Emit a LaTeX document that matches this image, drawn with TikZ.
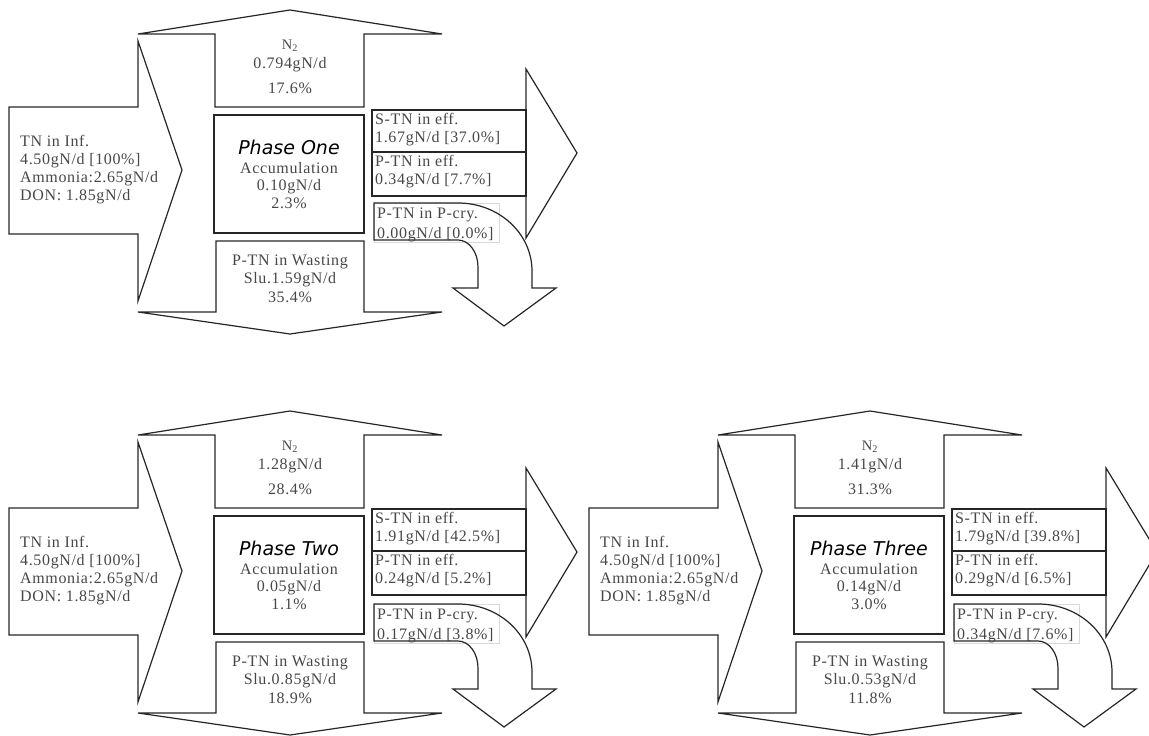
\documentclass[tikz,border=0pt]{standalone}
\usepackage{fontspec}
\setmainfont{Liberation Serif}[LetterSpace=4]
\newfontfamily\ttlfont{DejaVu Sans}
\tikzset{
  shp/.style={draw=black!85, line width=1.2pt, line join=miter},
  faint/.style={draw=black!15, line width=0.6pt},
  txt/.style={inner sep=0pt, text=black!72, font=\fontsize{16}{18}\selectfont},
  sub/.style={inner sep=0pt, text=black!72, font=\fontsize{14.5}{15}\selectfont},
  ttl/.style={inner sep=0pt, text=black, font=\ttlfont\itshape\fontsize{19}{20}\selectfont},
}
% shapes of one phase, in the coordinates of phase two; #1 = extra y shift of the effluent arrow
\newcommand{\phaseshapes}[1]{%
  \draw[shp] (215,508) -- (215,435) -- (138,435) -- (290,411) -- (442,435) -- (364,435) -- (364,508) -- cycle;
  \draw[shp] (9,508) -- (138,508) -- (138,442) -- (182,571) -- (138,702) -- (138,635) -- (9,635) -- cycle;
  \draw[shp] (214,516) rectangle (364,634);
  \draw[shp] (216,642) -- (364,642) -- (364,713) -- (442,713) -- (290,735) -- (138,713) -- (216,713) -- cycle;
  \begin{scope}[shift={(0,#1)}]
    \draw[shp] (526,468) -- (577,552) -- (526,637) -- cycle;
    \draw[shp] (372,509) rectangle (526,551);
    \draw[shp] (372,551) rectangle (526,595);
  \end{scope}
  \draw[faint] (374,604) rectangle (499,643);
  \draw[shp] (374,604) -- (458,604) .. controls (498.9,604) and (532,634.4) .. (532,672)
    -- (532,689) -- (556,689) -- (504,727) -- (453,689) -- (478,689) -- (478,668)
    .. controls (478,653.1) and (469,641) .. (458,641) -- (374,641) -- cycle;
}
\begin{document}
\begin{tikzpicture}[x=1pt,y=-1pt]
\useasboundingbox (0,0) rectangle (1149,736);
\clip (0,0) rectangle (1149,736);

% ---------------- Phase One ----------------
\begin{scope}[shift={(0,-401)}]
  \phaseshapes{2}
  \node[txt, anchor=west, align=left] (p1inf) at (20,571) {TN in Inf.\\4.50gN/d [100\%]\\Ammonia:2.65gN/d\\DON: 1.85gN/d};
  \node[sub] (p1n2) at (290,447) {N\textsubscript{2}};
  \node[txt] (p1n2v) at (290,466) {0.794gN/d};
  \node[txt] (p1n2p) at (290,489) {17.6\%};
  \node[ttl] (p1ttl) at (289,548) {Phase One};
  \node[txt] (p1acc) at (289,569) {Accumulation};
  \node[txt] (p1accv) at (289,588) {0.10gN/d};
  \node[txt] (p1accp) at (289,604) {2.3\%};
  \node[txt] (p1w1) at (290,663) {P-TN in Wasting};
  \node[txt] (p1w2) at (290,681) {Slu.1.59gN/d};
  \node[txt] (p1w3) at (290,698) {35.4\%};
  \node[txt, anchor=west, align=left] (p1s) at (375,531) {S-TN in eff.\\1.67gN/d [37.0\%]};
  \node[txt, anchor=west, align=left] (p1p) at (375,573) {P-TN in eff.\\0.34gN/d [7.7\%]};
  \node[txt, anchor=west, align=left] (p1c) at (377,626) {P-TN in P-cry.\\[2pt]0.00gN/d [0.0\%]};
\end{scope}

% ---------------- Phase Two ----------------
\begin{scope}
  \phaseshapes{0}
  \node[txt, anchor=west, align=left] (p2inf) at (20,571) {TN in Inf.\\4.50gN/d [100\%]\\Ammonia:2.65gN/d\\DON: 1.85gN/d};
  \node[sub] (p2n2) at (290,447) {N\textsubscript{2}};
  \node[txt] (p2n2v) at (290,466) {1.28gN/d};
  \node[txt] (p2n2p) at (290,489) {28.4\%};
  \node[ttl] (p2ttl) at (289,548) {Phase Two};
  \node[txt] (p2acc) at (289,569) {Accumulation};
  \node[txt] (p2accv) at (289,588) {0.05gN/d};
  \node[txt] (p2accp) at (289,604) {1.1\%};
  \node[txt] (p2w1) at (290,663) {P-TN in Wasting};
  \node[txt] (p2w2) at (290,681) {Slu.0.85gN/d};
  \node[txt] (p2w3) at (290,698) {18.9\%};
  \node[txt, anchor=west, align=left] (p2s) at (375,529) {S-TN in eff.\\1.91gN/d [42.5\%]};
  \node[txt, anchor=west, align=left] (p2p) at (375,571) {P-TN in eff.\\0.24gN/d [5.2\%]};
  \node[txt, anchor=west, align=left] (p2c) at (377,626) {P-TN in P-cry.\\[2pt]0.17gN/d [3.8\%]};
\end{scope}

% ---------------- Phase Three ----------------
\begin{scope}[shift={(580,0)}]
  \phaseshapes{0}
  \node[txt, anchor=west, align=left] (p3inf) at (20,571) {TN in Inf.\\4.50gN/d [100\%]\\Ammonia:2.65gN/d\\DON: 1.85gN/d};
  \node[sub] (p3n2) at (290,447) {N\textsubscript{2}};
  \node[txt] (p3n2v) at (290,466) {1.41gN/d};
  \node[txt] (p3n2p) at (290,489) {31.3\%};
  \node[ttl] (p3ttl) at (289,548) {Phase Three};
  \node[txt] (p3acc) at (289,569) {Accumulation};
  \node[txt] (p3accv) at (289,588) {0.14gN/d};
  \node[txt] (p3accp) at (289,604) {3.0\%};
  \node[txt] (p3w1) at (290,663) {P-TN in Wasting};
  \node[txt] (p3w2) at (290,681) {Slu.0.53gN/d};
  \node[txt] (p3w3) at (290,698) {11.8\%};
  \node[txt, anchor=west, align=left] (p3s) at (375,529) {S-TN in eff.\\1.79gN/d [39.8\%]};
  \node[txt, anchor=west, align=left] (p3p) at (375,571) {P-TN in eff.\\0.29gN/d [6.5\%]};
  \node[txt, anchor=west, align=left] (p3c) at (377,626) {P-TN in P-cry.\\[2pt]0.34gN/d [7.6\%]};
\end{scope}
\end{tikzpicture}
\end{document}
